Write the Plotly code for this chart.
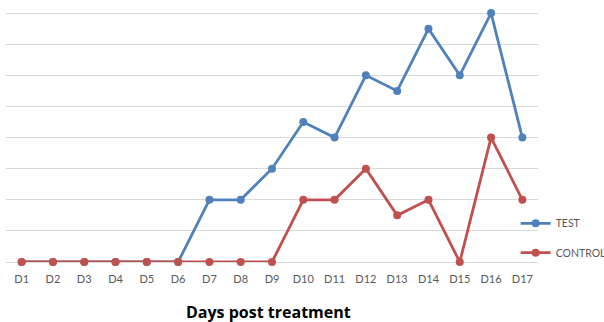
import plotly.graph_objects as go

days = [f"D{i}" for i in range(1, 18)]
test_values = [0, 0, 0, 0, 0, 0, 2, 2, 3, 4.5, 4, 6, 5.5, 7.5, 6, 8, 4]
control_values = [0, 0, 0, 0, 0, 0, 0, 0, 0, 2, 2, 3, 1.5, 2, 0, 4, 2]

BLUE = "#4F81BD"
RED = "#C0504D"
FONT = "Lato, Carlito, Calibri, sans-serif"

fig = go.Figure()
fig.add_trace(go.Scatter(
    x=days, y=test_values, name="TEST", mode="lines+markers",
    line=dict(color=BLUE, width=2.8), marker=dict(size=8, color=BLUE),
    cliponaxis=False, legend="legend",
))
fig.add_trace(go.Scatter(
    x=days, y=control_values, name="CONTROL", mode="lines+markers",
    line=dict(color=RED, width=2.8), marker=dict(size=8, color=RED),
    cliponaxis=False, legend="legend2",
))

legend_common = dict(
    xanchor="left", yanchor="middle", itemwidth=30,
    font=dict(family=FONT, size=10.5, color="#595959"),
    bgcolor="rgba(0,0,0,0)",
)
fig.update_layout(
    width=604, height=322,
    margin=dict(l=6, r=66, t=10, b=60, autoexpand=False),
    paper_bgcolor="white", plot_bgcolor="white",
    showlegend=True,
    legend=dict(x=0.958, y=0.1536, **legend_common),
    legend2=dict(x=0.958, y=0.037, **legend_common),
    xaxis=dict(
        range=[-0.5, 16.5],
        showgrid=False, showline=False, zeroline=False, ticks="",
        tickfont=dict(family=FONT, size=11, color="#595959"),
        ticklabelstandoff=9,
    ),
    yaxis=dict(
        range=[0, 8.1], dtick=1, showticklabels=False,
        showgrid=True, gridcolor="#D9D9D9", gridwidth=1,
        zeroline=True, zerolinecolor="#D9D9D9", zerolinewidth=1,
        showline=False, ticks="",
    ),
    annotations=[dict(
        text="<b>Days post treatment</b>", xref="paper", yref="paper",
        x=0.4925, y=-0.198, yanchor="middle", xanchor="center", showarrow=False,
        font=dict(family="Open Sans, sans-serif", size=16, color="black"),
    )],
)

fig.write_html("out.html")
